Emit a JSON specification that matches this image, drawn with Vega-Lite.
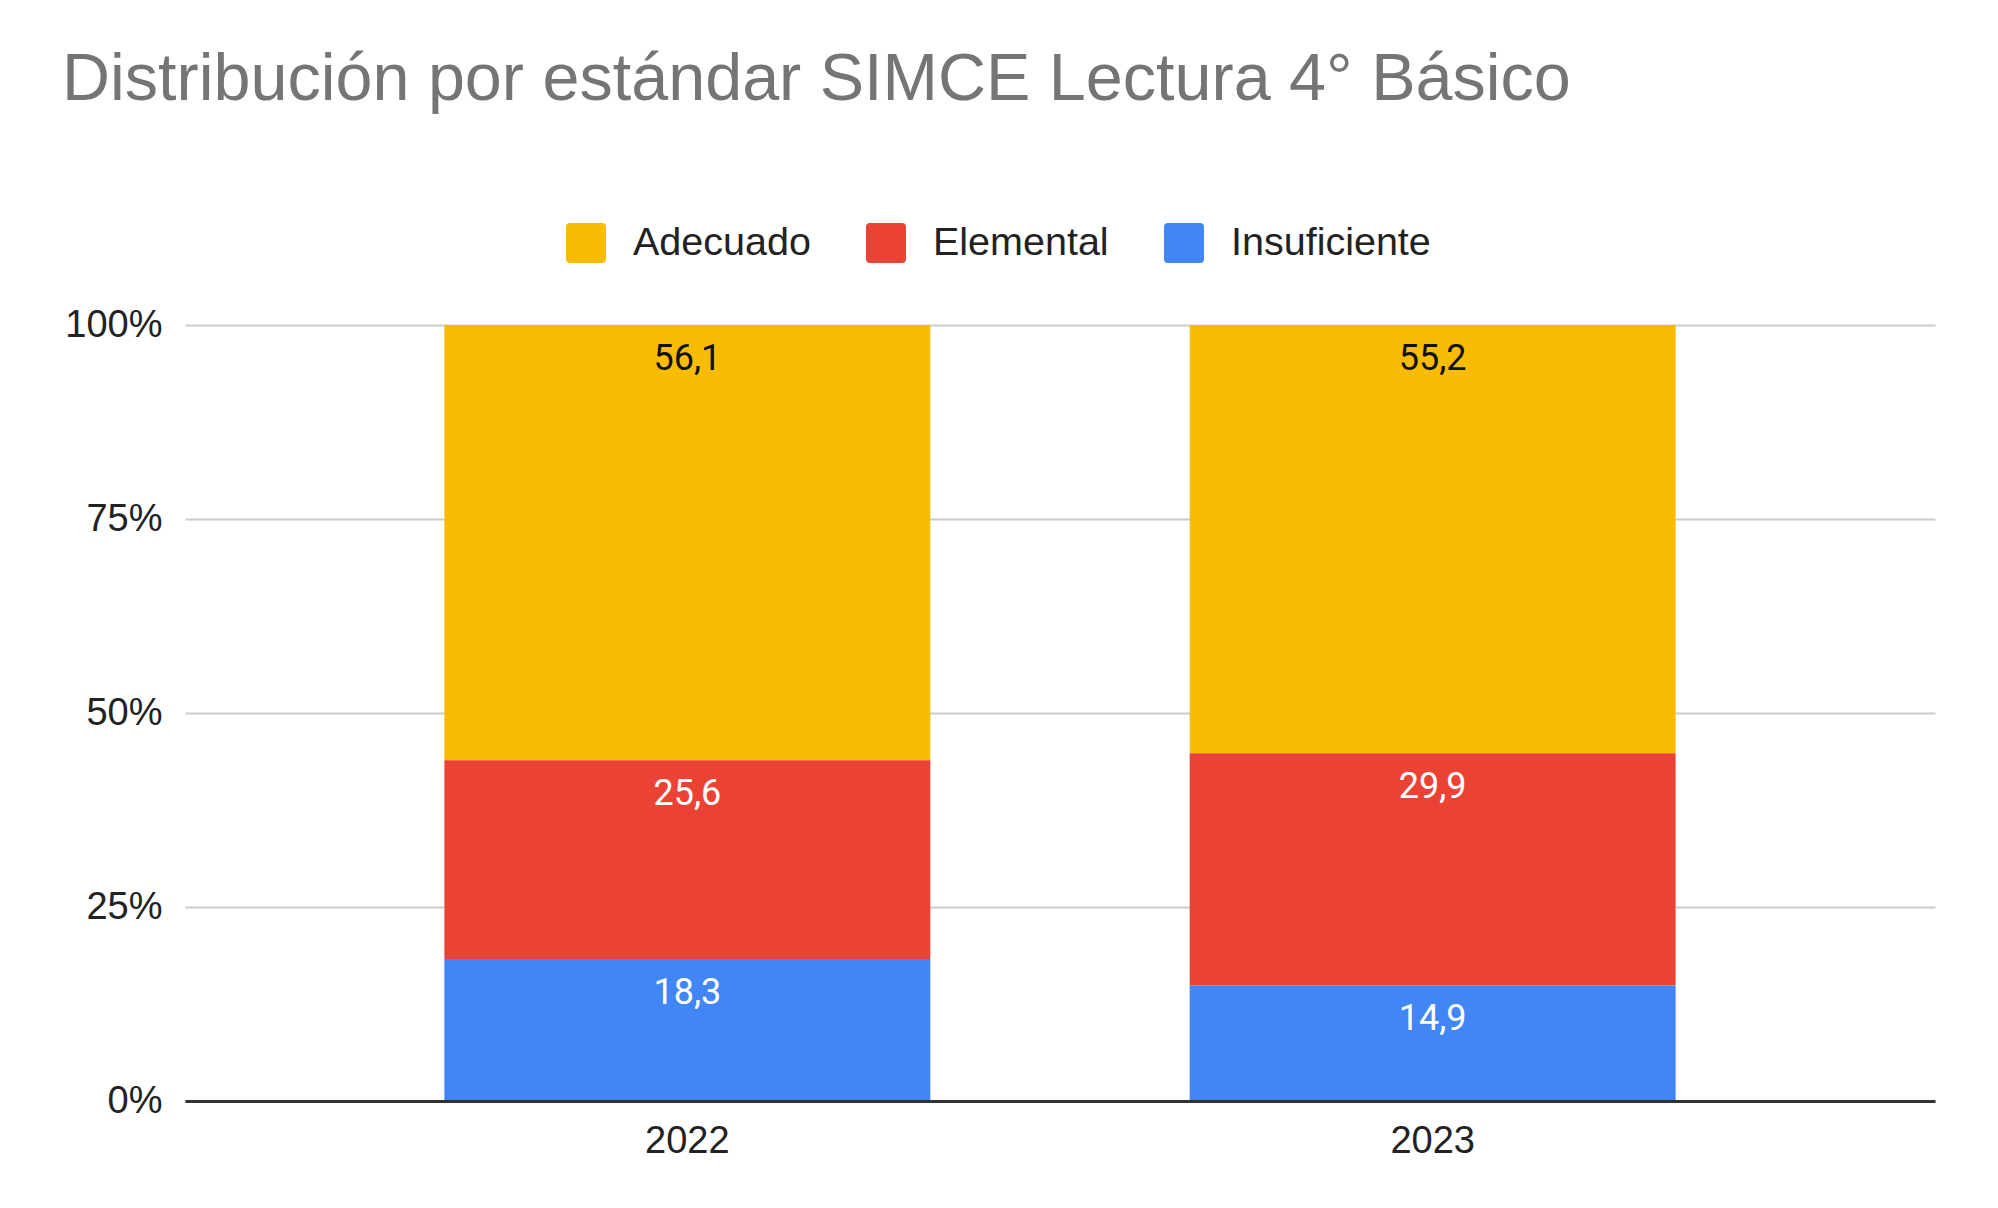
{
  "$schema": "https://vega.github.io/schema/vega-lite/v6.json",
  "autosize": {"type": "none"},
  "width": 1750,
  "height": 776,
  "padding": {"left": 185, "top": 325, "right": 63, "bottom": 107},
  "background": "white",
  "title": {
    "text": "Distribución por estándar SIMCE Lectura 4° Básico",
    "anchor": "start",
    "frame": "group",
    "dx": -123,
    "baseline": "alphabetic",
    "offset": 57,
    "fontSize": 66.5,
    "fontWeight": "normal",
    "font": "Liberation Sans",
    "color": "#757575"
  },
  "data": {
    "values": [
      {"anio": "2022", "estandar": "Adecuado", "valor": 56.1},
      {"anio": "2022", "estandar": "Elemental", "valor": 25.6},
      {"anio": "2022", "estandar": "Insuficiente", "valor": 18.3},
      {"anio": "2023", "estandar": "Adecuado", "valor": 55.2},
      {"anio": "2023", "estandar": "Elemental", "valor": 29.9},
      {"anio": "2023", "estandar": "Insuficiente", "valor": 14.9}
    ]
  },
  "encoding": {
    "x": {
      "field": "anio",
      "type": "nominal",
      "scale": {"paddingInner": 0.348, "paddingOuter": 0.348},
      "axis": {
        "title": null,
        "labelAngle": 0,
        "domain": true,
        "domainColor": "#333333",
        "domainWidth": 3,
        "ticks": false,
        "tickSize": 0,
        "labelPadding": 21,
        "labelFontSize": 38,
        "labelFont": "Liberation Sans",
        "labelColor": "#222222",
        "zindex": 1
      }
    },
    "y": {
      "field": "valor",
      "type": "quantitative",
      "stack": "normalize",
      "scale": {"domain": [0, 1]},
      "axis": {
        "title": null,
        "values": [0, 0.25, 0.5, 0.75, 1],
        "format": ".0%",
        "domain": false,
        "ticks": false,
        "tickSize": 0,
        "labelPadding": 23,
        "labelFontSize": 38,
        "labelFont": "Liberation Sans",
        "labelColor": "#222222",
        "gridColor": "#cccccc",
        "gridWidth": 2
      }
    },
    "order": {"field": "estandar", "sort": "descending"}
  },
  "layer": [
    {
      "mark": {"type": "bar"},
      "encoding": {
        "color": {
          "field": "estandar",
          "type": "nominal",
          "scale": {
            "domain": ["Adecuado", "Elemental", "Insuficiente"],
            "range": ["#F9BC05", "#EA4335", "#4285F4"]
          },
          "legend": {
            "title": null,
            "orient": "none",
            "direction": "horizontal",
            "legendX": 381,
            "legendY": -102,
            "padding": 0,
            "symbolType": "M-0.8,-1 L0.8,-1 Q1,-1 1,-0.8 L1,0.8 Q1,1 0.8,1 L-0.8,1 Q-1,1 -1,0.8 L-1,-0.8 Q-1,-1 -0.8,-1 Z",
            "symbolSize": 1600,
            "symbolStrokeWidth": 0,
            "symbolOpacity": 1,
            "labelFontSize": 39.5,
            "labelFont": "Liberation Sans",
            "labelColor": "#222222",
            "labelOffset": 27,
            "labelLimit": 500,
            "columnPadding": 55
          }
        }
      }
    },
    {
      "mark": {"type": "text", "baseline": "top", "dy": 17, "fontSize": 36, "font": "Roboto"},
      "encoding": {
        "detail": {"field": "estandar"},
        "text": {"field": "valor", "type": "quantitative", "format": ".1f"},
        "color": {
          "condition": {"test": "datum.estandar === 'Adecuado'", "value": "#111111"},
          "value": "#ffffff"
        }
      }
    }
  ],
  "config": {
    "view": {"stroke": null},
    "locale": {"number": {"decimal": ",", "thousands": ".", "grouping": [3], "currency": ["$", ""]}}
  }
}
